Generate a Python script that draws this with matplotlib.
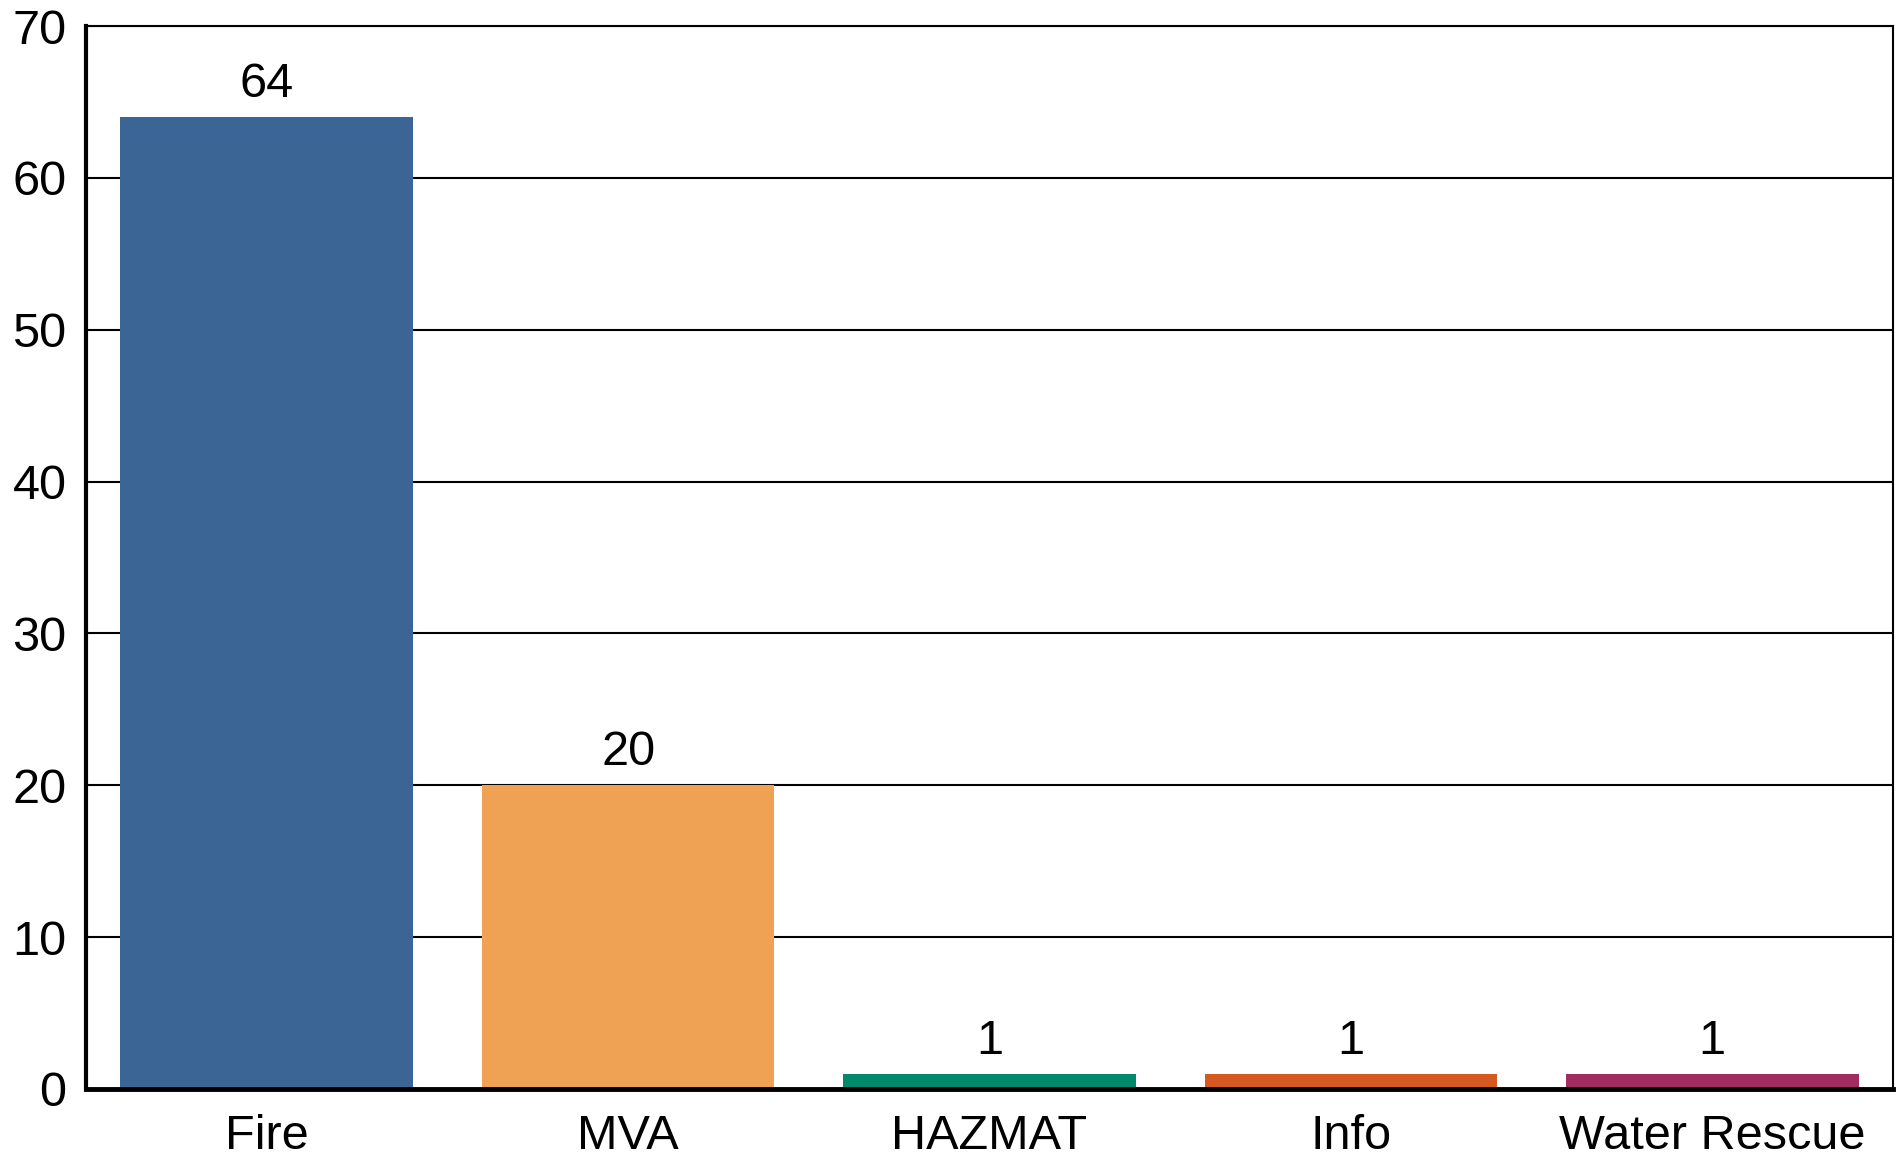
import matplotlib
matplotlib.use("Agg")
import matplotlib.pyplot as plt

categories = ["Fire", "MVA", "HAZMAT", "Info", "Water Rescue"]
values = [64, 20, 1, 1, 1]
colors = ["#3A6595", "#EFA253", "#00896A", "#D55A22", "#A02C60"]
yticks = [0, 10, 20, 30, 40, 50, 60, 70]

plt.rcParams['font.family'] = ['Liberation Sans', 'DejaVu Sans']

fig = plt.figure(figsize=(19.04, 11.59), dpi=100)
ax = fig.add_axes([86/1904, 1 - 1089/1159, (1893-86)/1904, (1089-26)/1159])

x = list(range(len(categories)))
bars = ax.bar(x, values, width=0.81, color=colors, zorder=3)
ax.set_xlim(-0.5, len(categories) - 0.5)
ax.set_ylim(0, 70)
ax.set_yticks(yticks)
ax.set_xticks(x)
ax.set_xticklabels(categories)
ax.yaxis.grid(True, color="black", linewidth=1.5, zorder=0)
ax.set_axisbelow(True)
ax.tick_params(axis='both', length=0, labelsize=35)
ax.tick_params(axis='y', pad=14)
ax.tick_params(axis='x', pad=18)

for s in ['top', 'right']:
    ax.spines[s].set_linewidth(1.5)
ax.spines['left'].set_linewidth(3)
ax.spines['bottom'].set_linewidth(3.5)
for s in ax.spines.values():
    s.set_zorder(4)

for xi, v in zip(x, values):
    ax.annotate(str(v), (xi, v), xytext=(0, 14.5), textcoords="offset points",
                ha='center', va='baseline', fontsize=35)

fig.savefig("out.png", dpi=100)
